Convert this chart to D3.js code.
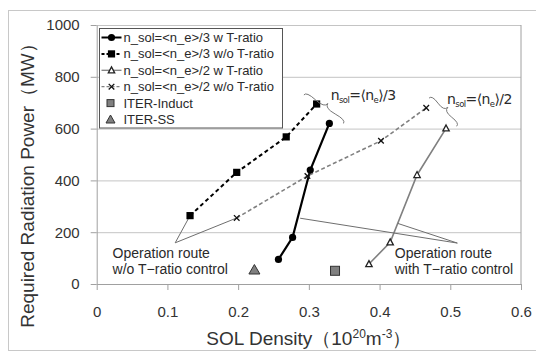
<!DOCTYPE html>
<html>
<head>
<meta charset="utf-8">
<script src="https://cdn.jsdelivr.net/npm/d3@7"></script>
<style>
    body { margin: 0; background: #fff; }
    text { font-family: "Liberation Sans", Arial, sans-serif; fill: #2a2a2a; }
    .grid line { stroke: #c4c4c4; stroke-width: 1; }
    .grid path { display: none; }
    .axis path, .axis line { stroke: #a0a0a0; }
    .axis text { font-size: 15px; fill: #333; }
    .leader { stroke: #6e6e6e; stroke-width: 1; fill: none; }
    .brace { stroke: #777; stroke-width: 1; fill: none; }
    .title { fill: #333; }
</style>
</head>
<body>
<div id="chart"></div>
<script>
// values
var xTicks = [0, 0.1, 0.2, 0.3, 0.4, 0.5, 0.6];
var yTicks = [0, 200, 400, 600, 800, 1000];

var third_w_x = [0.257, 0.277, 0.302, 0.329];
var third_w_y = [95, 180, 440, 620];
var third_wo_x = [0.132, 0.198, 0.268, 0.311];
var third_wo_y = [264, 431, 568, 695];
var half_w_x = [0.385, 0.415, 0.453, 0.494];
var half_w_y = [77, 161, 421, 601];
var half_wo_x = [0.198, 0.298, 0.402, 0.466];
var half_wo_y = [255, 417, 553, 680];
var iterInduct_x = [0.337];
var iterInduct_y = [51];
var iterSS_x = [0.223];
var iterSS_y = [54];

var legendLabels = [
    "n_sol=<n_e>/3 w T-ratio",
    "n_sol=<n_e>/3 w/o T-ratio",
    "n_sol=<n_e>/2 w T-ratio",
    "n_sol=<n_e>/2 w/o T-ratio",
    "ITER-Induct",
    "ITER-SS"
];

function zip(xs, ys) { return xs.map(function (d, i) { return { x: d, y: ys[i] }; }); }

var W = 536, H = 353;
var margin = { top: 25, right: 15, bottom: 69, left: 96.7 },
    width = W - margin.left - margin.right,
    height = H - margin.top - margin.bottom;

var svg = d3.select("#chart").append("svg")
    .attr("width", W).attr("height", H);

// outer chart frame
svg.append("rect")
    .attr("x", 8.5).attr("y", 10.5).attr("width", 600).attr("height", 340)
    .attr("fill", "none").attr("stroke", "#c8c8c8");

var g = svg.append("g")
    .attr("transform", "translate(" + margin.left + "," + margin.top + ")");

var x = d3.scaleLinear().domain([0, 0.6]).range([0, width]);
var y = d3.scaleLinear().domain([0, 1000]).range([height, 0]);

// gridlines
g.append("g").attr("class", "grid")
    .call(d3.axisLeft(y).tickValues(yTicks.slice(1)).tickSize(-width).tickFormat(""));

// right border of plot area
g.append("line")
    .attr("x1", width).attr("x2", width).attr("y1", 0).attr("y2", height)
    .attr("stroke", "#a0a0a0");

// axes
g.append("g").attr("class", "axis")
    .attr("transform", "translate(0," + height + ")")
    .call(d3.axisBottom(x).tickValues(xTicks).tickSize(6).tickSizeOuter(0).tickPadding(16)
        .tickFormat(function (d) { return d === 0 ? "0" : d.toFixed(1); }));

g.append("g").attr("class", "axis")
    .call(d3.axisLeft(y).tickValues(yTicks).tickSize(6).tickSizeOuter(0).tickPadding(11)
        .tickFormat(d3.format("d")));

// series
var series = [
    { data: zip(third_w_x, third_w_y), color: "#000", width: 2.2, dash: null, mark: "circle" },
    { data: zip(third_wo_x, third_wo_y), color: "#000", width: 2, dash: "4,3", mark: "square" },
    { data: zip(half_w_x, half_w_y), color: "#808080", width: 1.6, dash: null, mark: "tri" },
    { data: zip(half_wo_x, half_wo_y), color: "#808080", width: 1.6, dash: "4,2.5", mark: "cross" }
];

var line = d3.line()
    .x(function (d) { return x(d.x); })
    .y(function (d) { return y(d.y); });

series.forEach(function (s) {
    g.append("path")
        .datum(s.data)
        .attr("d", line)
        .attr("fill", "none")
        .attr("stroke", s.color)
        .attr("stroke-width", s.width)
        .attr("stroke-dasharray", s.dash);
});

// leader lines for "Operation route" notes
var leftAnchor = { x: 0.111, y: 159 };
var rightAnchor = { x: 0.510, y: 158 };
var leftTargets = [zip(third_wo_x, third_wo_y)[0], zip(half_wo_x, half_wo_y)[0]];
var rightTargets = [{ x: 0.2877, y: 254 }, { x: 0.4257, y: 234 }];

leftTargets.forEach(function (t) {
    g.append("line").attr("class", "leader")
        .attr("x1", x(leftAnchor.x)).attr("y1", y(leftAnchor.y))
        .attr("x2", x(t.x)).attr("y2", y(t.y));
});
rightTargets.forEach(function (t) {
    g.append("line").attr("class", "leader")
        .attr("x1", x(rightAnchor.x)).attr("y1", y(rightAnchor.y))
        .attr("x2", x(t.x)).attr("y2", y(t.y));
});

// marker drawing
function drawMarker(sel, type) {
    if (type === "circle") {
        sel.append("circle").attr("r", 3.6).attr("fill", "#000");
    } else if (type === "square") {
        sel.append("rect").attr("x", -3.6).attr("y", -3.6).attr("width", 7.2).attr("height", 7.2).attr("fill", "#000");
    } else if (type === "tri") {
        sel.append("path").attr("d", "M0,-3.4L3.2,2.6L-3.2,2.6Z")
            .attr("fill", "#fff").attr("stroke", "#222").attr("stroke-width", 1.3);
    } else if (type === "cross") {
        sel.append("path").attr("d", "M-2.8,-2.8L2.8,2.8M-2.8,2.8L2.8,-2.8")
            .attr("stroke", "#111").attr("stroke-width", 1.3);
    } else if (type === "bigsquare") {
        sel.append("rect").attr("x", -4.5).attr("y", -4.5).attr("width", 9).attr("height", 9)
            .attr("fill", "#808080").attr("stroke", "#333").attr("stroke-width", 1);
    } else if (type === "bigtri") {
        sel.append("path").attr("d", "M0,-5.5L5.5,4L-5.5,4Z")
            .attr("fill", "#808080").attr("stroke", "#333").attr("stroke-width", 1);
    }
}

series.forEach(function (s) {
    g.append("g").selectAll("g")
        .data(s.data)
        .enter()
        .append("g")
        .attr("transform", function (d) { return "translate(" + x(d.x) + "," + y(d.y) + ")"; })
        .each(function () { drawMarker(d3.select(this), s.mark); });
});

[[zip(iterInduct_x, iterInduct_y), "bigsquare"], [zip(iterSS_x, iterSS_y), "bigtri"]].forEach(function (p) {
    g.append("g").selectAll("g")
        .data(p[0])
        .enter()
        .append("g")
        .attr("transform", function (d) { return "translate(" + x(d.x) + "," + y(d.y) + ")"; })
        .each(function () { drawMarker(d3.select(this), p[1]); });
});

// curly braces
function bracePath(x1, y1, x2, y2, w, q) {
    var dx = x1 - x2, dy = y1 - y2, len = Math.sqrt(dx * dx + dy * dy);
    dx = dx / len; dy = dy / len;
    var qx1 = x1 + q * w * dy, qy1 = y1 - q * w * dx;
    var qx2 = (x1 - .25 * len * dx) + (1 - q) * w * dy, qy2 = (y1 - .25 * len * dy) - (1 - q) * w * dx;
    var tx1 = (x1 - .5 * len * dx) + w * dy, ty1 = (y1 - .5 * len * dy) - w * dx;
    var qx3 = x2 + q * w * dy, qy3 = y2 - q * w * dx;
    var qx4 = (x1 - .75 * len * dx) + (1 - q) * w * dy, qy4 = (y1 - .75 * len * dy) - (1 - q) * w * dx;
    return "M" + x1 + "," + y1 + "Q" + qx1 + "," + qy1 + " " + qx2 + "," + qy2 + "T" + tx1 + "," + ty1 +
        "M" + x2 + "," + y2 + "Q" + qx3 + "," + qy3 + " " + qx4 + "," + qy4 + "T" + tx1 + "," + ty1;
}

var braces = [
    { from: [0.349, 620], to: [0.293, 730], label: "3", lx: 0.331, ly: 712 },
    { from: [0.509, 609], to: [0.470, 718], label: "2", lx: 0.4955, ly: 694 }
];

braces.forEach(function (b) {
    g.append("path").attr("class", "brace")
        .attr("d", bracePath(x(b.from[0]), y(b.from[1]), x(b.to[0]), y(b.to[1]), 7, 0.6));
    var t = g.append("text").attr("x", x(b.lx)).attr("y", y(b.ly))
        .style("font-size", "14px").style("font-family", "'DejaVu Sans', sans-serif")
        .style("letter-spacing", "-0.6px");
    t.append("tspan").text("n");
    t.append("tspan").attr("dy", 3).style("font-size", "8.5px").text("sol");
    t.append("tspan").attr("dy", -3).text("=\u27E8n");
    t.append("tspan").attr("dy", 3).style("font-size", "8.5px").text("e");
    t.append("tspan").attr("dy", -3).text("\u27E9/" + b.label);
});

// "Operation route" notes
var notes = [
    { x: 0.0225, y: 100, lines: ["Operation route", "w/o T\u2212ratio control"] },
    { x: 0.4215, y: 100, lines: ["Operation route", "with T\u2212ratio control"] }
];
notes.forEach(function (n) {
    var t = g.append("text").attr("x", x(n.x)).attr("y", y(n.y)).style("font-size", "14px");
    n.lines.forEach(function (l, i) {
        t.append("tspan").attr("x", x(n.x)).attr("dy", i === 0 ? 0 : 16).text(l);
    });
});

// legend
var legend = svg.append("g").attr("transform", "translate(99.5,28.5)");
legend.append("rect")
    .attr("width", 183).attr("height", 99.5)
    .attr("fill", "#fff").attr("stroke", "#555");

var legendItems = legendLabels.map(function (l, i) {
    var s = series[i];
    return {
        label: l,
        mark: s ? s.mark : (i === 4 ? "smallgraysquare" : "smallgraytri"),
        color: s ? s.color : null,
        dash: s ? (s.dash ? "3,2" : null) : null
    };
});

var rows = legend.selectAll("g.item")
    .data(legendItems)
    .enter()
    .append("g")
    .attr("class", "item")
    .attr("transform", function (d, i) { return "translate(0," + (9 + i * 16.4) + ")"; });

rows.each(function (d) {
    var r = d3.select(this);
    if (d.color) {
        r.append("line").attr("x1", 2).attr("x2", 22).attr("y1", 0).attr("y2", 0)
            .attr("stroke", d.color).attr("stroke-width", d.mark === "tri" || d.mark === "cross" ? 1.3 : 2)
            .attr("stroke-dasharray", d.dash);
        var m = r.append("g").attr("transform", "translate(12,0)");
        drawMarker(m, d.mark);
    } else if (d.mark === "smallgraysquare") {
        r.append("rect").attr("x", 7.5).attr("y", -3.5).attr("width", 7).attr("height", 7)
            .attr("fill", "#808080").attr("stroke", "#333");
    } else {
        r.append("path").attr("d", "M11,-4.5L15.5,3.5L6.5,3.5Z")
            .attr("fill", "#808080").attr("stroke", "#333");
    }
    r.append("text").attr("x", 24).attr("y", 0).attr("dy", "0.35em")
        .style("font-size", "13px").text(d.label);
});

// axis titles
var xt = svg.append("text").attr("class", "title")
    .attr("x", margin.left + width / 2).attr("y", 345)
    .attr("text-anchor", "middle")
    .style("font-size", "19px");
xt.append("tspan").text("SOL Density\uFF0810");
xt.append("tspan").attr("dy", -7).style("font-size", "12px").text("20");
xt.append("tspan").attr("dy", 7).text("m");
xt.append("tspan").attr("dy", -7).style("font-size", "12px").text("-3");
xt.append("tspan").attr("dy", 7).text("\uFF09");

svg.append("text").attr("class", "title")
    .attr("transform", "translate(33.5," + 181 + ") rotate(-90)")
    .attr("text-anchor", "middle")
    .style("font-size", "19px")
    .text("Required Radiation Power\uFF08MW\uFF09");
</script>
</body>
</html>
